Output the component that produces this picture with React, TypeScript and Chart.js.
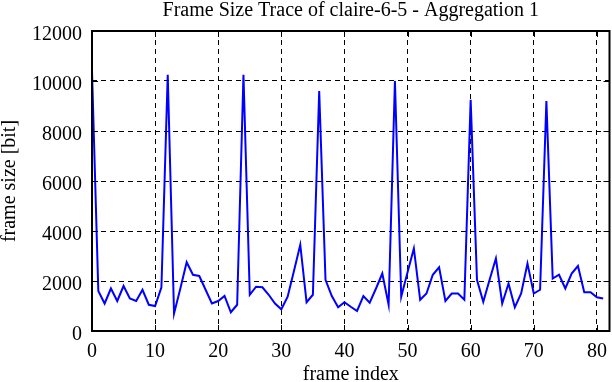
import React, { useEffect, useRef } from "react";
import { Chart, registerables } from "chart.js";

Chart.register(...registerables);

const chartTitle = "Frame Size Trace of claire-6-5 - Aggregation 1";
const xAxisTitle = "frame index";
const yAxisTitle = "frame size [bit]";

// frame size (bit) for frame index 0..81
const frameSizes = [
  10400, 1600, 1100, 1700, 1200, 1800, 1300, 1200, 1650, 1050,
  1000, 1750, 10250, 700, 1700, 2750, 2250, 2200, 1650, 1100,
  1200, 1400, 750, 1050, 10250, 1450, 1770, 1750, 1450, 1100,
  870, 1370, 2400, 3450, 1150, 1450, 9600, 2050, 1400, 950,
  1150, 970, 800, 1400, 1130, 1700, 2300, 1050, 10000, 1370,
  2350, 3300, 1250, 1500, 2250, 2550, 1200, 1500, 1500, 1250,
  9250, 2050, 1170, 2050, 2900, 1100, 1900, 950, 1500, 2700,
  1500, 1650, 9200, 2100, 2250, 1700, 2300, 2600, 1550, 1550,
  1350, 1300,
];

const xMin = 0;
const xMax = 82;
const xStep = 10;
const yMin = 0;
const yMax = 12000;
const yStep = 2000;

const FONT = "'Liberation Serif', 'Times New Roman', serif";

const framePlugin = {
  id: "gnuplotFrame",
  afterDatasetsDraw(chart: any) {
    const { ctx, chartArea } = chart;
    const { left, right, top, bottom } = chartArea;
    const xs = chart.scales.x;
    const ys = chart.scales.y;
    const len = 6;
    ctx.save();
    ctx.strokeStyle = "#000";
    ctx.lineWidth = 1;
    ctx.setLineDash([]);
    ctx.beginPath();
    xs.ticks.forEach((t: any) => {
      const px = Math.round(xs.getPixelForValue(t.value)) + 0.5;
      ctx.moveTo(px, bottom);
      ctx.lineTo(px, bottom - len);
      ctx.moveTo(px, top);
      ctx.lineTo(px, top + len);
    });
    ys.ticks.forEach((t: any) => {
      const py = Math.round(ys.getPixelForValue(t.value)) + 0.5;
      ctx.moveTo(left, py);
      ctx.lineTo(left + len, py);
      ctx.moveTo(right, py);
      ctx.lineTo(right - len, py);
    });
    ctx.stroke();
    ctx.lineWidth = 2;
    ctx.strokeRect(left, top, right - left, bottom - top);
    ctx.restore();
  },
};

export default function App() {
  const canvasRef = useRef<HTMLCanvasElement | null>(null);

  useEffect(() => {
    if (!canvasRef.current) return;
    const chart = new Chart(canvasRef.current, {
      type: "line",
      data: {
        datasets: [
          {
            data: frameSizes.map((v, i) => ({ x: i, y: v })),
            borderColor: "rgb(0,0,255)",
            borderWidth: 2,
            pointRadius: 0,
            tension: 0,
            fill: false,
          },
        ],
      },
      options: {
        animation: false,
        responsive: false,
        devicePixelRatio: 1,
        layout: { padding: { left: 0, right: 2.5, top: 0, bottom: 0 } },
        plugins: {
          legend: { display: false },
          tooltip: { enabled: false },
          title: {
            display: true,
            text: chartTitle,
            fullSize: false,
            color: "#000",
            font: { family: FONT, size: 20, weight: "normal", lineHeight: 1 },
            padding: { top: 1, bottom: 10 },
          },
        },
        scales: {
          x: {
            type: "linear",
            min: xMin,
            max: xMax,
            afterFit: (s: any) => {
              s.height = 51;
              s.paddingLeft = 0;
              s.paddingRight = 0;
            },
            ticks: {
              stepSize: xStep,
              includeBounds: false,
              autoSkip: false,
              maxRotation: 0,
              padding: 9,
              color: "#000",
              font: { family: FONT, size: 20 },
              callback: (v: any) => String(v),
            },
            grid: { color: "#000", lineWidth: 1, drawTicks: false },
            border: { display: false, dash: [5, 4] },
            title: {
              display: true,
              text: xAxisTitle,
              color: "#000",
              font: { family: FONT, size: 20, lineHeight: 0.75 },
              padding: { top: 0, bottom: 0 },
            },
          },
          y: {
            type: "linear",
            min: yMin,
            max: yMax,
            afterFit: (s: any) => {
              s.width = 92;
              s.paddingTop = 0;
              s.paddingBottom = 0;
            },
            ticks: {
              stepSize: yStep,
              includeBounds: false,
              padding: 10,
              labelOffset: 4,
              color: "#000",
              font: { family: FONT, size: 20 },
              callback: (v: any) => String(v),
            },
            grid: { color: "#000", lineWidth: 1, drawTicks: false },
            border: { display: false, dash: [5, 4] },
            title: {
              display: true,
              text: yAxisTitle,
              color: "#000",
              font: { family: FONT, size: 20, lineHeight: 1 },
              padding: { top: 0, bottom: 0 },
            },
          },
        },
      },
      plugins: [framePlugin],
    });
    return () => chart.destroy();
  }, []);

  return (
    <div style={{ position: "absolute", left: 0, top: 0, width: 612, height: 382, background: "#fff" }}>
      <canvas ref={canvasRef} width={612} height={382} style={{ display: "block" }} />
    </div>
  );
}
